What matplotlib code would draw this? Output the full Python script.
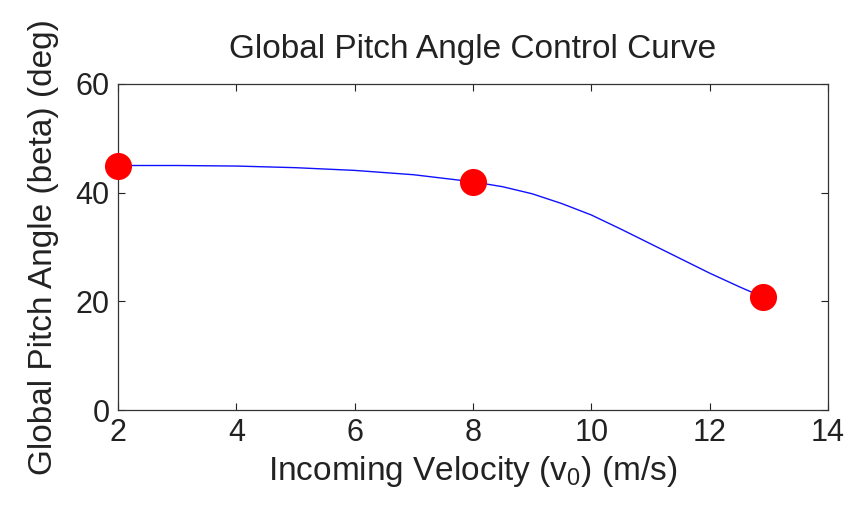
import numpy as np
import matplotlib
matplotlib.use("Agg")
import matplotlib.pyplot as plt

# puntos de control (velocidad, angulo)
vel_puntos = [2.0, 8.0, 12.9]
angulo_puntos = [45.0, 42.0, 20.8]

# curva
vel_curva = [2.0, 3.0, 4.0, 5.0, 6.0, 7.0, 8.0, 8.5, 9.0, 9.5, 10.0, 10.5, 11.0, 11.5, 12.0, 12.5, 12.9]
angulo_curva = [45.0, 45.0, 44.9, 44.6, 44.1, 43.3, 42.0, 41.1, 39.8, 38.0, 35.9, 33.3, 30.6, 27.9, 25.2, 22.7, 20.8]

plt.rcParams['font.family'] = ['Liberation Sans', 'DejaVu Sans']
plt.rcParams['mathtext.fontset'] = 'custom'
plt.rcParams['mathtext.rm'] = 'Liberation Sans'

fig = plt.figure(figsize=(8.58, 5.12), dpi=100)
ax = fig.add_axes([0.1375, 0.199, 0.8275, 0.637])

ax.plot(vel_curva, angulo_curva, color='#1010ff', linewidth=1.0)
ax.plot(vel_puntos, angulo_puntos, 'o', color='red', markersize=19.5,
        markeredgewidth=0, clip_on=False, zorder=3)

ax.set_xlim(2, 14)
ax.set_ylim(0, 60)
ax.set_xticks(np.arange(2, 15, 2))
ax.set_yticks([0, 20, 40, 60])

ax.tick_params(direction='in', length=5, width=0.8, top=True, right=True,
               labelsize=22, pad=6, colors='#222222')
for s in ax.spines.values():
    s.set_linewidth(0.9)
    s.set_color('#333333')

ax.set_title("Global Pitch Angle Control Curve", fontsize=24, pad=19, color='#222222')
ax.set_xlabel(r"Incoming Velocity (v$_{\mathregular{0}}$) (m/s)", fontsize=24, labelpad=4, color='#222222')
ax.set_ylabel("Global Pitch Angle (beta) (deg)", fontsize=24, labelpad=12, color='#222222')

fig.savefig("out.png", dpi=100)
